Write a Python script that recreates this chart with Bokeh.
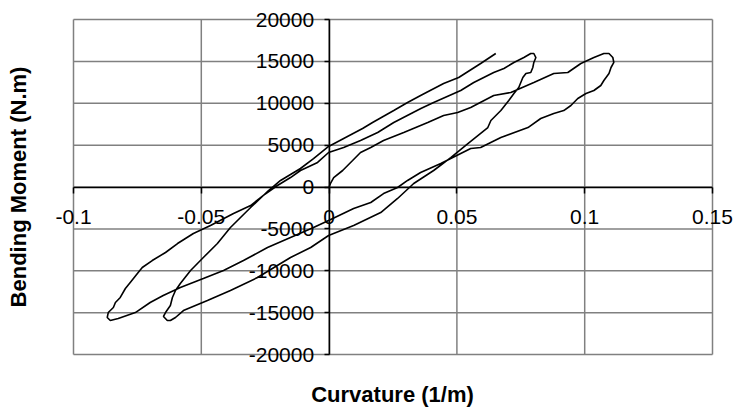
import math
from bokeh.plotting import figure
from bokeh.models import Range1d, FixedTicker, Label
from bokeh.embed import file_html
from bokeh.resources import INLINE

# ---- tick definitions ----
x_ticks = [-0.1, -0.05, 0, 0.05, 0.1, 0.15]
x_tick_labels = ["-0.1", "-0.05", "0", "0.05", "0.1", "0.15"]
y_ticks = [-20000, -15000, -10000, -5000, 0, 5000, 10000, 15000, 20000]
y_tick_labels = ["-20000", "-15000", "-10000", "-5000", "0", "5000", "10000", "15000", "20000"]

# ---- data: curvature (1/m) and bending moment (N.m), by branch ----
# 1: initial loading from the origin to the first positive peak
load1_curv = [0.0, 0.0005, 0.0018, 0.0053, 0.0092, 0.0123, 0.0163, 0.0213, 0.0292, 0.0386,
              0.0448, 0.0503, 0.0554, 0.0644, 0.0711, 0.0801, 0.0879, 0.0934, 0.0985, 0.1036,
              0.1075, 0.1095, 0.1110, 0.1114]
load1_mom = [0, 400, 1130, 1970, 3160, 4120, 4720, 5550, 6510, 7700,
             8540, 8900, 9490, 10930, 11280, 12480, 13550, 13670, 14750, 15460,
             15940, 15940, 15460, 14870]

# 2: unloading / reverse loading to the first negative peak
unload1_curv = [0.1103, 0.1095, 0.1075, 0.1063, 0.1036, 0.1005, 0.0973, 0.0946, 0.0918, 0.0879,
                0.0828, 0.0778, 0.0672, 0.0593, 0.0554, 0.0437, 0.0358, 0.0307, 0.0268, 0.0213,
                0.0163, 0.0096, -0.0002, -0.0061, -0.0151, -0.0241, -0.0335, -0.0413, -0.0492,
                -0.0582, -0.0649, -0.0700, -0.0758, -0.0825, -0.0856, -0.0868, -0.0864]
unload1_mom = [14270, 13550, 12720, 12120, 11520, 11160, 10570, 9730, 9130, 8780,
               8180, 7100, 5910, 4720, 4600, 2810, 1730, 780, -60, -780,
               -1850, -2570, -4000, -4840, -6030, -7220, -8780, -9970, -10930,
               -12000, -12960, -13790, -14990, -15700, -15940, -15580, -14990]

# 3: reloading to the second positive peak
load2_curv = [-0.0844, -0.0836, -0.0817, -0.0797, -0.0778, -0.0750, -0.0731, -0.0692, -0.0640,
              -0.0593, -0.0531, -0.0464, -0.0374, -0.0307, -0.0257, -0.0202, -0.0151, -0.0112,
              -0.0045, -0.0002, 0.0057, 0.0123, 0.0190, 0.0253, 0.0359, 0.0409, 0.0515, 0.0566,
              0.0644, 0.0684, 0.0723, 0.0762, 0.0789, 0.0801, 0.0809, 0.0801]
load2_mom = [-14390, -13790, -13190, -12120, -11400, -10330, -9610, -8780, -7820,
             -6750, -5550, -4600, -3160, -2210, -1010, 180, 1130, 1970,
             2930, 4120, 4720, 5550, 6510, 7700, 9370, 10090, 11520, 12480,
             13670, 14150, 14870, 15460, 15940, 15940, 15460, 14870]

# 4: unloading / reverse loading to the second negative peak
unload2_curv = [0.0797, 0.0789, 0.0770, 0.0758, 0.0750, 0.0742, 0.0723, 0.0703, 0.0672, 0.0633,
                0.0621, 0.0543, 0.0476, 0.0409, 0.0331, 0.0268, 0.0202, 0.0096, -0.0002, -0.0072,
                -0.0151, -0.0280, -0.0386, -0.0476, -0.0570, -0.0601, -0.0621, -0.0633, -0.0648,
                -0.0640]
unload2_mom = [14270, 13670, 13550, 13070, 12480, 11880, 11160, 10330, 9130, 7940,
               7100, 5190, 3520, 1970, 420, -1370, -3050, -4600, -5790, -7220,
               -8420, -10810, -12360, -13550, -14750, -15580, -15940, -15940, -15460,
               -14990]

# 5: final reloading
load3_curv = [-0.0621, -0.0613, -0.0601, -0.0582, -0.0542, -0.0492, -0.0437, -0.0386, -0.0307,
              -0.0237, -0.0190, -0.0112, -0.0061, -0.0002, 0.0057, 0.0131, 0.0170, 0.0253,
              0.0307, 0.0358, 0.0448, 0.0507, 0.0593, 0.0652]
load3_mom = [-14150, -13190, -12360, -11520, -9970, -8420, -6750, -4840, -2450,
             -420, 780, 2210, 3400, 4840, 5790, 6990, 7700, 9130,
             10090, 10930, 12360, 13070, 14750, 15940]

curv_all = load1_curv + unload1_curv + load2_curv + unload2_curv + load3_curv
mom_all = load1_mom + unload1_mom + load2_mom + unload2_mom + load3_mom

FONT = "Liberation Sans"
GRID = "#808080"

# The frame covers the whole canvas; the ranges are padded so that the
# plotting area (-0.1..0.15, -20000..20000) lands where the reference has it.
W, H = 734, 408
PL, PR, PT, PB = 73, 712, 19, 354          # plot-area pixel box
xs = (x_ticks[-1] - x_ticks[0]) / (PR - PL)
ys = (y_ticks[-1] - y_ticks[0]) / (PB - PT)
x_range = Range1d(x_ticks[0] - PL * xs, x_ticks[-1] + (W - PR) * xs)
y_range = Range1d(y_ticks[0] - (H - PB) * ys, y_ticks[-1] + PT * ys)

p = figure(width=W, height=H, output_backend="svg", toolbar_location=None,
           x_range=x_range, y_range=y_range,
           min_border_left=0, min_border_right=0, min_border_top=0, min_border_bottom=0)

p.background_fill_color = "white"
p.border_fill_color = "white"
p.outline_line_color = None
p.grid.visible = False

# gridlines (including the gray plot-area border)
nx, ny = len(x_ticks), len(y_ticks)
p.segment(x0=x_ticks, y0=[y_ticks[0]] * nx, x1=x_ticks, y1=[y_ticks[-1]] * nx,
          line_color=GRID, line_width=1.5)
p.segment(x0=[x_ticks[0]] * ny, y0=y_ticks, x1=[x_ticks[-1]] * ny, y1=y_ticks,
          line_color=GRID, line_width=1.5)

for ax in (p.xaxis, p.yaxis):
    ax.fixed_location = 0
    ax.axis_line_color = "black"
    ax.axis_line_width = 1.5
    ax.major_tick_line_color = "black"
    ax.major_tick_line_width = 1.5
    ax.major_tick_in = 0
    ax.minor_tick_line_color = None
    ax.major_label_text_font = FONT
    ax.major_label_text_font_size = "21px"
    ax.major_label_text_color = "black"
    ax.axis_label = None

p.xaxis.bounds = (x_ticks[0], x_ticks[-1])
p.xaxis.ticker = FixedTicker(ticks=x_ticks)
p.xaxis.major_label_overrides = dict(zip(x_ticks, x_tick_labels))
p.xaxis.major_tick_out = 6
p.xaxis.major_label_standoff = 17

p.yaxis.bounds = (y_ticks[0], y_ticks[-1])
p.yaxis.ticker = FixedTicker(ticks=y_ticks)
p.yaxis.major_label_overrides = dict(zip(y_ticks, y_tick_labels))
p.yaxis.major_tick_out = 5
p.yaxis.major_label_standoff = 10

p.line(curv_all, mom_all, line_color="black", line_width=1.6)

p.add_layout(Label(x=0.0248, y=-24775, text="Curvature (1/m)", text_align="center",
                   text_baseline="middle", text_font=FONT, text_font_style="bold",
                   text_font_size="22px", text_color="black"))
p.add_layout(Label(x=-0.1215, y=0, text="Bending Moment (N.m)", angle=math.pi / 2,
                   text_align="center", text_baseline="middle", text_font=FONT,
                   text_font_style="bold", text_font_size="22px", text_color="black"))

open("out.html", "w").write(file_html(p, INLINE))
